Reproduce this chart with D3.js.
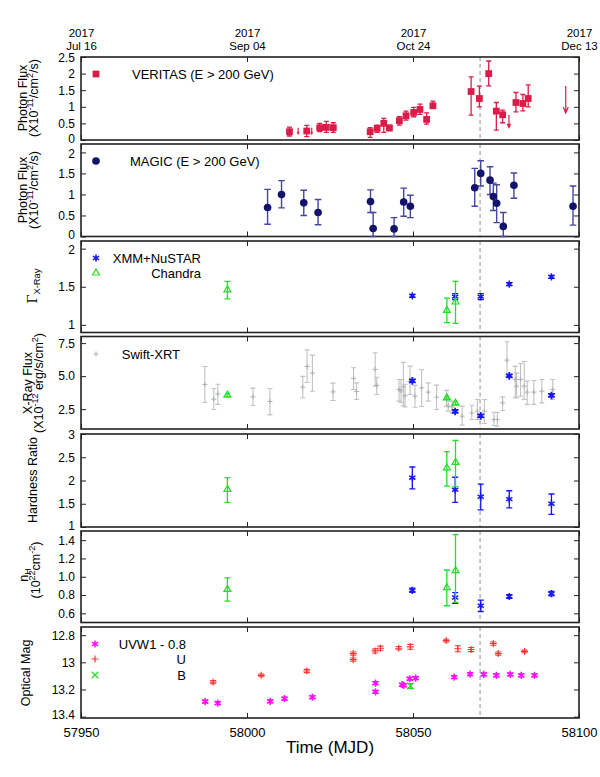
<!DOCTYPE html>
<html><head><meta charset="utf-8">
<script src="https://cdn.jsdelivr.net/npm/d3@7"></script>
<style>body{margin:0;background:#fff}svg{display:block}</style>
</head><body><svg id="c" width="600" height="777"></svg>
<script>
// ---------------- DATA ----------------
const topTickMJD = [57950, 58000, 58050, 58100];
const topTickYear = ["2017", "2017", "2017", "2017"];
const topTickDate = ["Jul 16", "Sep 04", "Oct 24", "Dec 13"];
const bottomTickMJD = [57950, 58000, 58050, 58100];
const flareMJD = 58070.2;

const veritasMJD = [58012.8,58018.0,58021.9,58023.9,58026.0,58037.1,58039.2,58041.2,58042.9,58045.9,58047.9,58050.2,58052.1,58054.1,58056.0,58067.5,58070.0,58072.8,58075.1,58077.0,58081.0,58083.1,58084.7];
const veritasFlux = [0.25,0.27,0.37,0.38,0.37,0.25,0.35,0.50,0.36,0.58,0.73,0.83,0.92,0.62,1.03,1.46,1.25,2.00,0.87,0.76,1.13,1.10,1.25];
const veritasHi = [0.39,0.44,0.50,0.56,0.52,0.37,0.45,0.65,0.45,0.70,0.87,0.98,1.08,0.82,1.17,1.90,1.62,2.38,1.13,0.90,1.43,1.37,1.66];
const veritasLo = [0.12,0.10,0.25,0.23,0.23,0.08,0.23,0.23,0.28,0.45,0.60,0.70,0.77,0.48,0.95,0.75,1.00,1.63,0.30,0.52,0.85,0.88,1.00];
const veritasUlMJD = [58015.4, 58019.5, 58078.9, 58096.0];
const veritasUl = [0.37, 0.37, 0.75, 1.63];

const magicMJD = [58006.2,58010.4,58017.1,58021.4,58037.2,58038.0,58044.3,58047.2,58049.2,58068.6,58070.4,58073.2,58074.2,58075.2,58077.2,58080.4,58098.2];
const magicFlux = [0.69,1.00,0.80,0.57,0.83,0.19,0.18,0.82,0.72,1.16,1.50,1.34,0.95,0.79,0.24,1.22,0.72];
const magicHi = [1.12,1.33,1.10,0.88,1.11,0.57,0.45,1.15,0.98,1.62,1.80,1.66,1.27,1.23,0.57,1.51,1.20];
const magicLo = [0.29,0.68,0.50,0.28,0.57,0.00,0.00,0.48,0.45,0.72,1.20,1.00,0.62,0.33,0.00,0.91,0.27];

const xmmMJD = [58049.8, 58062.7, 58070.4, 58079.0, 58091.7];
const xmmGamma = [1.38, 1.37, 1.37, 1.535, 1.63];
const xmmGammaErr = [0.02, 0.04, 0.04, 0.02, 0.02];
const xmmFlux = [4.64, 2.33, 1.99, 5.02, 3.54];
const xmmFluxErr = [0.12, 0.12, 0.12, 0.12, 0.12];
const xmmHR = [2.06, 1.80, 1.65, 1.60, 1.50];
const xmmHRHi = [2.29, 2.07, 1.92, 1.78, 1.71];
const xmmHRLo = [1.82, 1.53, 1.37, 1.41, 1.27];
const xmmNH = [0.852, 0.773, 0.683, 0.784, 0.816];
const xmmNHHi = [0.875, 0.827, 0.744, 0.805, 0.840];
const xmmNHLo = [0.830, 0.710, 0.620, 0.765, 0.790];

const chandraMJD = [57994.1, 58060.2, 58062.8];
const chandraGamma = [1.46, 1.19, 1.30];
const chandraGammaHi = [1.57, 1.35, 1.57];
const chandraGammaLo = [1.34, 1.03, 1.02];
const chandraFlux = [3.56, 3.36, 2.95];
const chandraHR = [1.81, 2.27, 2.39];
const chandraHRHi = [2.06, 2.62, 2.86];
const chandraHRLo = [1.53, 1.88, 1.87];
const chandraNH = [0.862, 0.880, 1.067];
const chandraNHHi = [0.988, 1.074, 1.460];
const chandraNHLo = [0.733, 0.683, 0.720];

const swiftMJD = [57987.3,57990.0,57991.2,58001.8,58006.9,58016.8,58018.1,58019.7,58025.9,58032.1,58033.0,58038.6,58039.1,58045.8,58046.4,58047.1,58047.6,58049.1,58050.6,58052.6,58054.6,58057.1,58060.1,58060.6,58061.8,58064.8,58067.7,58069.4,58071.5,58074.4,58075.4,58077.0,58078.3,58080.8,58081.2,58082.4,58083.5,58084.4,58086.4,58088.8,58092.1];
const swiftFlux = [4.37,3.26,3.66,3.43,3.08,4.17,5.73,5.23,3.81,4.83,3.84,5.51,4.30,3.99,3.89,4.19,3.51,4.60,3.48,4.11,3.79,3.41,3.28,2.73,2.67,1.97,2.22,2.35,2.35,1.72,1.72,2.98,6.21,4.75,4.24,4.75,4.24,3.79,3.79,3.86,3.99];
const swiftHi = [5.73,4.07,4.39,4.09,4.07,4.98,6.99,6.59,4.47,5.63,4.49,6.77,4.92,4.75,4.75,6.04,4.39,5.76,4.30,5.48,4.49,4.32,3.92,3.11,3.11,2.73,2.80,3.23,3.23,2.27,2.27,3.43,7.60,5.76,5.25,5.96,6.11,4.62,4.67,4.75,4.75];
const swiftLo = [3.01,2.48,2.86,2.78,2.07,3.36,4.52,3.86,3.16,3.99,3.23,4.24,3.61,3.11,3.01,2.75,2.67,3.61,2.65,2.70,3.11,2.48,2.73,2.35,2.22,1.29,1.72,1.72,1.42,1.27,1.21,2.40,5.00,3.36,3.36,3.48,3.23,2.86,2.86,2.98,3.23];

const uvw1MJD = [57987.4,57991.2,58007.0,58011.3,58019.7,58038.7,58038.7,58046.7,58047.2,58049.0,58050.8,58062.4,58067.2,58071.3,58075.1,58079.3,58082.6,58086.6];
const uvw1Mag = [13.289,13.300,13.287,13.267,13.257,13.153,13.217,13.165,13.170,13.121,13.116,13.109,13.087,13.089,13.096,13.089,13.096,13.096];
const uvw1Err = 0.011;
const uMJD = [57989.8,58004.3,58018.0,58032.0,58032.0,58038.6,58040.2,58045.7,58049.2,58060.0,58063.5,58067.5,58074.2,58075.7,58083.6];
const uMag = [13.146,13.096,13.064,12.936,12.980,12.916,12.896,12.896,12.886,12.840,12.900,12.906,12.862,12.936,12.920];
const uErr = [0.012,0.010,0.012,0.012,0.012,0.015,0.015,0.012,0.018,0.010,0.022,0.015,0.012,0.012,0.010];
const bMJD = [58049.2];
const bMag = [13.174];
const bErr = [0.018];

// ---------------- LAYOUT ----------------
const FONT = "'Liberation Sans', Arial, Helvetica, sans-serif";
const svg = d3.select("#c").style("font-family", FONT);
const X0 = 81, X1 = 579;
const x = d3.scaleLinear().domain([57950, 58100]).range([X0, X1]);

const boxes = [[57,140],[144,236.5],[241,332.5],[336.5,429],[434,527],[531,622.5],[627,718]];
const domains = [[0,2.5],[0,2.2],[0.9,2.1],[1,8],[1,3],[0.5,1.5],[12.74,13.41]];
const yTicks = [[0,0.5,1,1.5,2,2.5],[0,0.5,1,1.5,2],[1,1.5,2],[2.5,5,7.5],[1,1.5,2,2.5,3],[0.6,0.8,1.0,1.2,1.4],[12.8,13,13.2,13.4]];
const fmts = [String, String, String, d3.format(".1f"), String, d3.format(".1f"), String];
const ys = boxes.map((b,i) => d3.scaleLinear().domain(domains[i]).range(i === 6 ? [b[0], b[1]] : [b[1], b[0]]));

const FRAME = "#222";

boxes.forEach((b, i) => {
  const g = svg.append("g");
  const la = g.append("g").attr("transform", `translate(${X0},0)`)
    .call(d3.axisLeft(ys[i]).tickValues(yTicks[i]).tickFormat(fmts[i]).tickSizeInner(-5).tickSizeOuter(0).tickPadding(6));
  la.select(".domain").remove();
  la.selectAll("text").style("font-size", "12px").style("font-family", FONT).attr("fill", "#000");
  la.selectAll("line").attr("stroke", FRAME);
  // nudge labels that sit right at a shared panel edge so neighbours don't collide
  la.selectAll(".tick text").attr("transform", function(d) {
    const py = ys[i](d);
    if (Math.abs(py - b[1]) < 3) return "translate(0,-1.5)";
    if (py - b[0] < 10) return "translate(0,1)";
    return null;
  });
  const ra = g.append("g").attr("transform", `translate(${X1},0)`)
    .call(d3.axisRight(ys[i]).tickValues(yTicks[i]).tickFormat("").tickSizeInner(-5).tickSizeOuter(0));
  ra.select(".domain").remove();
  ra.selectAll("line").attr("stroke", FRAME);
  const ba = g.append("g").attr("transform", `translate(0,${b[1]})`)
    .call(d3.axisBottom(x).tickValues(bottomTickMJD).tickFormat(i === 6 ? d3.format("d") : "").tickSizeInner(-5).tickSizeOuter(0).tickPadding(10));
  ba.select(".domain").remove();
  ba.selectAll("line").attr("stroke", FRAME);
  ba.selectAll("text").style("font-size", "13px").style("font-family", FONT).attr("fill", "#000");
  const ta = g.append("g").attr("transform", `translate(0,${b[0]})`)
    .call(d3.axisTop(x).tickValues(topTickMJD).tickFormat("").tickSizeInner(-5).tickSizeOuter(0));
  ta.select(".domain").remove();
  ta.selectAll("line").attr("stroke", FRAME);
  if (i === 0) {
    ta.selectAll(".tick").each(function(d, k) {
      const t = d3.select(this);
      t.append("text").attr("y", -20.5).attr("text-anchor", "middle").attr("fill", "#000")
        .style("font-size", "11.5px").style("font-family", FONT).text(topTickYear[k]);
      t.append("text").attr("y", -7).attr("text-anchor", "middle").attr("fill", "#000")
        .style("font-size", "11.5px").style("font-family", FONT).text(topTickDate[k]);
    });
  }
  g.append("line").attr("x1", x(flareMJD)).attr("x2", x(flareMJD)).attr("y1", b[0]).attr("y2", b[1])
    .attr("stroke", "#999").attr("stroke-width", 1.1).attr("stroke-dasharray", "4,3");
  g.append("rect").attr("x", X0).attr("y", b[0]).attr("width", X1 - X0).attr("height", b[1] - b[0])
    .attr("fill", "none").attr("stroke", FRAME).attr("stroke-width", 1.6);
});

// ---------------- HELPERS ----------------
const plot = svg.append("g");
function errbars(mjd, lo, hi, y, color, cap, w) {
  plot.append("g").selectAll("path").data(d3.range(mjd.length)).join("path")
    .attr("d", k => {
      const px = x(mjd[k]), a = y(lo[k]), c = y(hi[k]);
      return `M${px-cap},${a}H${px+cap}M${px},${a}V${c}M${px-cap},${c}H${px+cap}`;
    })
    .attr("fill", "none").attr("stroke", color).attr("stroke-width", w);
}
function markers(mjd, val, y, type, size, fill, stroke, sw) {
  plot.append("g").selectAll("path").data(d3.range(mjd.length)).join("path")
    .attr("transform", k => `translate(${x(mjd[k])},${y(val[k])})`)
    .attr("d", d3.symbol(type, size))
    .attr("fill", fill).attr("stroke", stroke).attr("stroke-width", sw);
}
function legendSym(px, py, type, size, fill, stroke, sw) {
  svg.append("path").attr("transform", `translate(${px},${py})`).attr("d", d3.symbol(type, size))
    .attr("fill", fill).attr("stroke", stroke).attr("stroke-width", sw);
}
function legendText(px, py, txt, anchor) {
  svg.append("text").attr("x", px).attr("y", py + 4.5).attr("text-anchor", anchor || "start")
    .style("font-size", "13px").attr("fill", "#000").text(txt);
}
function vlabel(cx, cy, parts, size) {
  const t = svg.append("text").attr("transform", `translate(${cx},${cy}) rotate(-90)`)
    .attr("text-anchor", "middle").style("font-size", size + "px").attr("fill", "#000");
  let shift = 0;
  parts.forEach(([s, k, fam]) => {
    const target = k === "sup" ? -5 : k === "sub" ? 3 : 0;
    const ts = t.append("tspan").attr("dy", target - shift).text(s);
    if (k !== "n") ts.style("font-size", (size * 0.72) + "px");
    if (fam) ts.style("font-family", fam);
    shift = target;
  });
}

// ---------------- PANEL 1: VERITAS ----------------
const RED = "#dc1c48";
errbars(veritasMJD, veritasLo, veritasHi, ys[0], RED, 2.5, 1.3);
markers(veritasMJD, veritasFlux, ys[0], d3.symbolSquare, 46, RED, "none", 0);
plot.append("g").selectAll("path").data(d3.range(veritasUl.length)).join("path")
  .attr("d", k => {
    const px = x(veritasUlMJD[k]), a = ys[0](veritasUl[k]), c = ys[0](veritasUl[k] / 2);
    const hl = Math.min(6, (c - a) * 0.3), hw = Math.min(2.5, hl * 0.45);
    return `M${px},${a}V${c}M${px-hw},${c-hl}L${px},${c}L${px+hw},${c-hl}`;
  })
  .attr("fill", "none").attr("stroke", RED).attr("stroke-width", 1.2);
legendSym(96, 74, d3.symbolSquare, 46, RED, "none", 0);
legendText(132, 74, "VERITAS (E > 200 GeV)");

// ---------------- PANEL 2: MAGIC ----------------
errbars(magicMJD, magicLo, magicHi, ys[1], "#4646a0", 3.3, 1.4);
markers(magicMJD, magicFlux, ys[1], d3.symbolCircle, 46, "#13136b", "none", 0);
legendSym(96, 161, d3.symbolCircle, 46, "#13136b", "none", 0);
legendText(130, 161, "MAGIC (E > 200 GeV)");

// ---------------- PANEL 3: Gamma ----------------
const BLUE = "#1515f5", GREEN = "#22e022";
errbars(xmmMJD, xmmGamma.map((v,k)=>v-xmmGammaErr[k]), xmmGamma.map((v,k)=>v+xmmGammaErr[k]), ys[2], BLUE, 3, 1.2);
markers(xmmMJD, xmmGamma, ys[2], d3.symbolAsterisk, 36, "none", BLUE, 1.5);
errbars(chandraMJD, chandraGammaLo, chandraGammaHi, ys[2], GREEN, 3, 1.3);
markers(chandraMJD, chandraGamma, ys[2], d3.symbolTriangle2, 34, "none", GREEN, 1.2);
legendSym(96, 258, d3.symbolAsterisk, 36, "none", BLUE, 1.5);
legendText(201, 258, "XMM+NuSTAR", "end");
legendSym(96, 273, d3.symbolTriangle2, 34, "none", GREEN, 1.2);
legendText(201, 273, "Chandra", "end");

// ---------------- PANEL 4: X-ray flux ----------------
errbars(swiftMJD, swiftLo, swiftHi, ys[3], "#c2c2c2", 2.5, 1.1);
markers(swiftMJD, swiftFlux, ys[3], d3.symbolPlus, 10, "none", "#b0b0b0", 1);
errbars(chandraMJD, chandraFlux.map(v=>v-0.1), chandraFlux.map(v=>v+0.1), ys[3], GREEN, 2, 1.2);
markers(chandraMJD, chandraFlux, ys[3], d3.symbolTriangle2, 34, "none", GREEN, 1.3);
errbars(xmmMJD, xmmFlux.map((v,k)=>v-xmmFluxErr[k]), xmmFlux.map((v,k)=>v+xmmFluxErr[k]), ys[3], BLUE, 3, 1.2);
markers(xmmMJD, xmmFlux, ys[3], d3.symbolAsterisk, 40, "none", BLUE, 1.8);
legendSym(96, 354, d3.symbolPlus, 10, "none", "#b0b0b0", 1);
legendText(180, 354, "Swift-XRT", "end");

// ---------------- PANEL 5: Hardness ----------------
errbars(xmmMJD, xmmHRLo, xmmHRHi, ys[4], BLUE, 3, 1.3);
markers(xmmMJD, xmmHR, ys[4], d3.symbolAsterisk, 36, "none", BLUE, 1.5);
errbars(chandraMJD, chandraHRLo, chandraHRHi, ys[4], GREEN, 3, 1.3);
markers(chandraMJD, chandraHR, ys[4], d3.symbolTriangle2, 34, "none", GREEN, 1.2);

// ---------------- PANEL 6: nH ----------------
errbars(xmmMJD, xmmNHLo, xmmNHHi, ys[5], BLUE, 3, 1.3);
markers(xmmMJD, xmmNH, ys[5], d3.symbolAsterisk, 36, "none", BLUE, 1.5);
errbars(chandraMJD, chandraNHLo, chandraNHHi, ys[5], GREEN, 3, 1.3);
markers(chandraMJD, chandraNH, ys[5], d3.symbolTriangle2, 34, "none", GREEN, 1.2);

// ---------------- PANEL 7: Optical ----------------
const MAG = "#ff10ff", URED = "#ff3333";
errbars(uvw1MJD, uvw1Mag.map(v=>v-uvw1Err), uvw1Mag.map(v=>v+uvw1Err), ys[6], MAG, 3, 1.2);
markers(uvw1MJD, uvw1Mag, ys[6], d3.symbolAsterisk, 36, "none", MAG, 1.5);
errbars(uMJD, uMag.map((v,k)=>v-uErr[k]), uMag.map((v,k)=>v+uErr[k]), ys[6], URED, 3, 1.1);
markers(uMJD, uMag, ys[6], d3.symbolPlus, 18, "none", URED, 1.1);
errbars(bMJD, bMag.map((v,k)=>v-bErr[k]), bMag.map((v,k)=>v+bErr[k]), ys[6], GREEN, 3, 1.1);
markers(bMJD, bMag, ys[6], d3.symbolX, 30, "none", GREEN, 1.2);
legendSym(95, 644, d3.symbolAsterisk, 36, "none", MAG, 1.5);
legendText(186, 644, "UVW1 - 0.8", "end");
legendSym(95, 659, d3.symbolPlus, 18, "none", URED, 1.2);
legendText(186, 659, "U", "end");
legendSym(95, 675, d3.symbolX, 30, "none", GREEN, 1.2);
legendText(186, 675, "B", "end");

// ---------------- AXIS TITLES ----------------
const LS = 12.5;
vlabel(26.5, 98, [["Photon Flux","n"]], LS);
vlabel(38, 98, [["(X10","n"],["-11","sup"],["/cm","n"],["2","sup"],["/s)","n"]], LS);
vlabel(26.5, 190, [["Photon Flux","n"]], LS);
vlabel(38, 190, [["(X10","n"],["-11","sup"],["/cm","n"],["2","sup"],["/s)","n"]], LS);
vlabel(37, 286, [["Γ","n","'DejaVu Serif', serif"],["X-Ray","sub"]], 13);
vlabel(31.5, 383, [["X-Ray Flux","n"]], LS);
vlabel(42.5, 383, [["(X10","n"],["-12","sup"],[" erg/s/cm","n"],["2","sup"],[")","n"]], LS);
vlabel(37, 480, [["Hardness Ratio","n"]], LS);
vlabel(28, 575, [["n","n"],["H","sub"]], LS);
vlabel(40, 570, [["(10","n"],["22","sup"],["cm","n"],["-2","sup"],[")","n"]], LS);
vlabel(30, 673, [["Optical Mag","n"]], LS);

svg.append("text").attr("x", x(58025)).attr("y", 753).attr("text-anchor", "middle")
  .style("font-size", "17px").attr("fill", "#000").text("Time (MJD)");
</script>
</body></html>
